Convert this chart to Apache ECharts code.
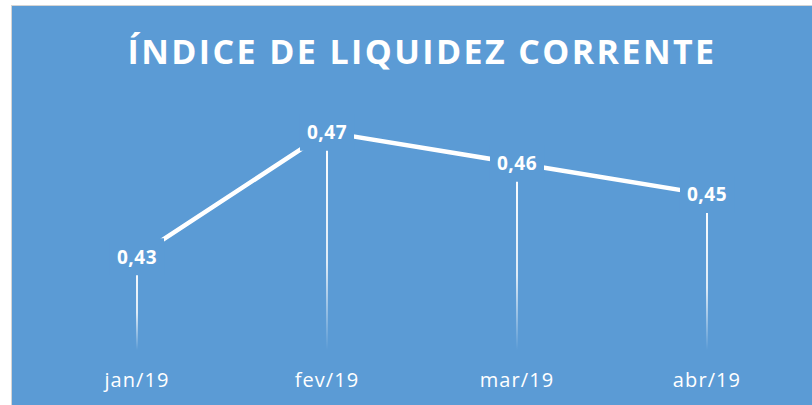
<!DOCTYPE html>
<html>
<head>
<meta charset="utf-8">
<script src="https://cdn.jsdelivr.net/npm/echarts@6/dist/echarts.min.js"></script>
<style>
  html, body { margin: 0; padding: 0; background: #ffffff; width: 812px; height: 405px; overflow: hidden; }
  #wrap { position: absolute; left: 11px; top: 5px; width: 801px; height: 400px; box-sizing: border-box;
          border-left: 1px solid #d4d4d4; border-top: 1px solid #d4d4d4; background: #5b9bd5; }
  #chart { width: 800px; height: 399px; }
  #chart text[style*="34px"] { letter-spacing: 2.4px; }
  #chart text[style*="20px"] { letter-spacing: 1.1px; }
  #chart text[style*="19px"] { letter-spacing: 0.5px; }
</style>
</head>
<body>
<div id="wrap"><div id="chart"></div></div>
<script>
const titleText = 'ÍNDICE DE LIQUIDEZ CORRENTE';
const categories = ['jan/19', 'fev/19', 'mar/19', 'abr/19'];
const values = [0.43, 0.47, 0.46, 0.45];
const yMin = 0.40;
const yMax = 0.48;

const BG = '#5b9bd5';
const chart = echarts.init(document.getElementById('chart'), null, { renderer: 'svg' });
chart.setOption({
  backgroundColor: BG,
  animation: false,
  title: {
    text: titleText,
    left: 405,
    top: 23,
    textAlign: 'center',
    textStyle: { color: '#ffffff', fontSize: 34, fontWeight: 'bold', fontFamily: 'Open Sans' }
  },
  grid: { left: 30, right: 10, top: 95, bottom: 55 },
  xAxis: {
    type: 'category',
    data: categories,
    boundaryGap: true,
    axisLine: { show: false },
    axisTick: { show: false },
    splitLine: { show: false },
    axisLabel: { color: '#ffffff', fontSize: 20, fontFamily: 'Open Sans', margin: 19 }
  },
  yAxis: {
    type: 'value',
    min: yMin,
    max: yMax,
    show: false,
    splitLine: { show: false }
  },
  series: [
    {
      type: 'bar',
      data: values,
      barWidth: 2,
      z: 1,
      silent: true,
      itemStyle: {
        color: new echarts.graphic.LinearGradient(0, 0, 0, 1, [
          { offset: 0, color: 'rgba(255,255,255,1)' },
          { offset: 0.6, color: 'rgba(255,255,255,0.8)' },
          { offset: 0.95, color: 'rgba(255,255,255,0.1)' },
          { offset: 1, color: 'rgba(255,255,255,0)' }
        ])
      }
    },
    {
      type: 'line',
      data: values,
      z: 3,
      symbol: 'circle',
      symbolSize: 1,
      itemStyle: { color: '#ffffff' },
      lineStyle: { color: '#ffffff', width: 4.5 },
      label: {
        show: true,
        position: 'inside',
        formatter: p => p.value.toFixed(2).replace('.', ','),
        color: '#ffffff',
        fontSize: 19,
        fontWeight: 'bold',
        fontFamily: 'Open Sans',
        backgroundColor: BG,
        padding: [8, 8, 10, 8]
      }
    }
  ]
});
</script>
</body>
</html>
